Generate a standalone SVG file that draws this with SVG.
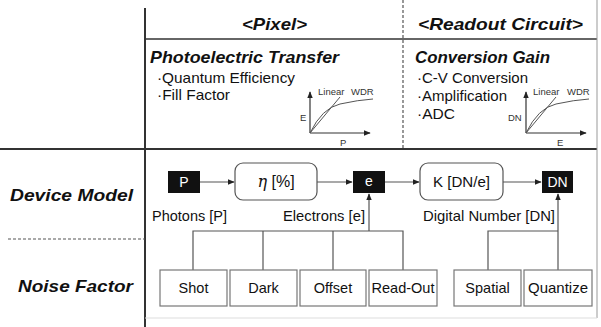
<svg xmlns="http://www.w3.org/2000/svg" width="601" height="327" viewBox="0 0 601 327">
<style>
text{font-family:"Liberation Sans",Arial,sans-serif;fill:#111}
.hd{font-size:17px;font-weight:bold;font-style:italic}
.sub{font-size:17px;font-weight:bold;font-style:italic}
.it{font-size:15px}
.lbl{font-size:14.5px}
.sm{font-size:9.5px;fill:#333}
.blk{fill:#111}
.wt{fill:#fff;font-size:14px}
.rb{fill:#fff;stroke:#555;stroke-width:1.2}
.nb{fill:#fff;stroke:#777;stroke-width:1.2}
.ln{stroke:#555;stroke-width:1.2;fill:none}
.ax{stroke:#333;stroke-width:1.2;fill:none}
.cv{stroke:#555;stroke-width:1;fill:none}
</style>
<defs>
<marker id="ah" viewBox="0 0 10 10" refX="9" refY="5" markerWidth="6" markerHeight="6" orient="auto">
<path d="M0,1 L10,5 L0,9 z" fill="#222"/>
</marker>
</defs>
<rect width="601" height="327" fill="#fff"/>
<g id="frame">
<line x1="145" y1="8" x2="145" y2="327" stroke="#333" stroke-width="2"/>
<line x1="145" y1="39" x2="597" y2="39" stroke="#333" stroke-width="1.3"/>
<line x1="0" y1="149" x2="597" y2="149" stroke="#333" stroke-width="2"/>
<line x1="597" y1="0" x2="597" y2="318" stroke="#999" stroke-width="1"/>
<line x1="145" y1="318" x2="597" y2="318" stroke="#ddd" stroke-width="1"/>
<line x1="403" y1="0" x2="403" y2="148" stroke="#555" stroke-width="1.2" stroke-dasharray="3,2"/>
<line x1="8" y1="239" x2="145" y2="239" stroke="#555" stroke-width="1.2" stroke-dasharray="3,2"/>
</g>
<g id="headers">
<text class="hd" x="242" y="30" textLength="65" lengthAdjust="spacingAndGlyphs">&lt;Pixel&gt;</text>
<text class="hd" x="418" y="30" textLength="165" lengthAdjust="spacingAndGlyphs">&lt;Readout Circuit&gt;</text>
<text class="hd" x="10" y="201" font-size="18" textLength="123" lengthAdjust="spacingAndGlyphs">Device Model</text>
<text class="hd" x="18" y="292" font-size="18" textLength="115" lengthAdjust="spacingAndGlyphs">Noise Factor</text>
</g>
<g id="pixel-desc">
<text class="sub" x="150" y="63" textLength="189" lengthAdjust="spacingAndGlyphs">Photoelectric Transfer</text>
<text class="it" x="157" y="83" textLength="138" lengthAdjust="spacingAndGlyphs">·Quantum Efficiency</text>
<text class="it" x="157" y="100" textLength="73" lengthAdjust="spacingAndGlyphs">·Fill Factor</text>
<line class="ax" x1="310" y1="133" x2="310" y2="92" marker-end="url(#ah)"/>
<line class="ax" x1="310" y1="133" x2="370" y2="133" marker-end="url(#ah)"/>
<line class="cv" x1="310" y1="133" x2="340" y2="97"/>
<path class="cv" d="M310,133 Q322,108 340,104 T373,99"/>
<text class="sm" x="318" y="95">Linear</text>
<text class="sm" x="351" y="95">WDR</text>
<text class="sm" x="300" y="121">E</text>
<text class="sm" x="340" y="146">P</text>
</g>
<g id="readout-desc">
<text class="sub" x="415" y="63" textLength="135" lengthAdjust="spacingAndGlyphs">Conversion Gain</text>
<text class="it" x="417" y="83" textLength="111" lengthAdjust="spacingAndGlyphs">·C-V Conversion</text>
<text class="it" x="417" y="101" textLength="90" lengthAdjust="spacingAndGlyphs">·Amplification</text>
<text class="it" x="417" y="119" textLength="38" lengthAdjust="spacingAndGlyphs">·ADC</text>
<line class="ax" x1="526" y1="133" x2="526" y2="92" marker-end="url(#ah)"/>
<line class="ax" x1="526" y1="133" x2="586" y2="133" marker-end="url(#ah)"/>
<line class="cv" x1="526" y1="133" x2="556" y2="97"/>
<path class="cv" d="M526,133 Q538,108 556,104 T589,99"/>
<text class="sm" x="533" y="95">Linear</text>
<text class="sm" x="567" y="95">WDR</text>
<text class="sm" x="508" y="121">DN</text>
<text class="sm" x="557" y="146">E</text>
</g>
<g id="connectors">
<line class="ln" x1="200" y1="182" x2="234" y2="182" marker-end="url(#ah)"/>
<line class="ln" x1="317" y1="182" x2="352" y2="182" marker-end="url(#ah)"/>
<line class="ln" x1="385" y1="182" x2="419" y2="182" marker-end="url(#ah)"/>
<line class="ln" x1="503" y1="182" x2="541" y2="182" marker-end="url(#ah)"/>
<polyline class="ln" points="193,270 193,231 403,231 403,270"/>
<line class="ln" x1="263" y1="231" x2="263" y2="270"/>
<line class="ln" x1="333" y1="231" x2="333" y2="270"/>
<line class="ln" x1="369" y1="231" x2="369" y2="194" marker-end="url(#ah)"/>
<polyline class="ln" points="488,270 488,231 558,231"/>
<line class="ln" x1="558" y1="270" x2="558" y2="194" marker-end="url(#ah)"/>
</g>
<g id="node-P">
<rect class="blk" x="168" y="171" width="32" height="22"/>
<text class="wt" x="184" y="187" text-anchor="middle">P</text>
</g>
<g id="node-eta">
<rect class="rb" x="235" y="163" width="82" height="37" rx="8"/>
<text x="276" y="187" text-anchor="middle" font-size="16"><tspan font-family="'DejaVu Serif',serif" font-style="italic">η</tspan> [%]</text>
</g>
<g id="node-e">
<rect class="blk" x="353" y="171" width="32" height="22"/>
<text class="wt" x="369" y="186" text-anchor="middle">e</text>
</g>
<g id="node-K">
<rect class="rb" x="420" y="163" width="83" height="37" rx="8"/>
<text class="lbl" x="461.5" y="187" text-anchor="middle" textLength="57" lengthAdjust="spacingAndGlyphs">K [DN/e]</text>
</g>
<g id="node-DN">
<rect class="blk" x="542" y="171" width="31" height="22"/>
<text class="wt" x="557.5" y="187" text-anchor="middle">DN</text>
</g>
<g id="labels">
<text class="lbl" x="152" y="221" textLength="75" lengthAdjust="spacingAndGlyphs">Photons [P]</text>
<text class="lbl" x="283" y="221" textLength="82" lengthAdjust="spacingAndGlyphs">Electrons [e]</text>
<text class="lbl" x="423" y="221" textLength="132" lengthAdjust="spacingAndGlyphs">Digital Number [DN]</text>
</g>
<g id="node-shot"><rect class="nb" x="160" y="270" width="67" height="36"/><text class="lbl" x="193.5" y="293" text-anchor="middle" font-size="15">Shot</text></g>
<g id="node-dark"><rect class="nb" x="230" y="270" width="67" height="36"/><text class="lbl" x="263.5" y="293" text-anchor="middle" font-size="15">Dark</text></g>
<g id="node-offset"><rect class="nb" x="300" y="270" width="66" height="36"/><text class="lbl" x="333" y="293" text-anchor="middle" font-size="15">Offset</text></g>
<g id="node-readout"><rect class="nb" x="369" y="270" width="68" height="36"/><text class="lbl" x="403" y="293" text-anchor="middle" textLength="63" lengthAdjust="spacingAndGlyphs">Read-Out</text></g>
<g id="node-spatial"><rect class="nb" x="454" y="270" width="67" height="36"/><text class="lbl" x="487.5" y="293" text-anchor="middle" font-size="15">Spatial</text></g>
<g id="node-quantize"><rect class="nb" x="524" y="270" width="68" height="36"/><text class="lbl" x="558" y="293" text-anchor="middle" textLength="60" lengthAdjust="spacingAndGlyphs">Quantize</text></g>
</svg>
